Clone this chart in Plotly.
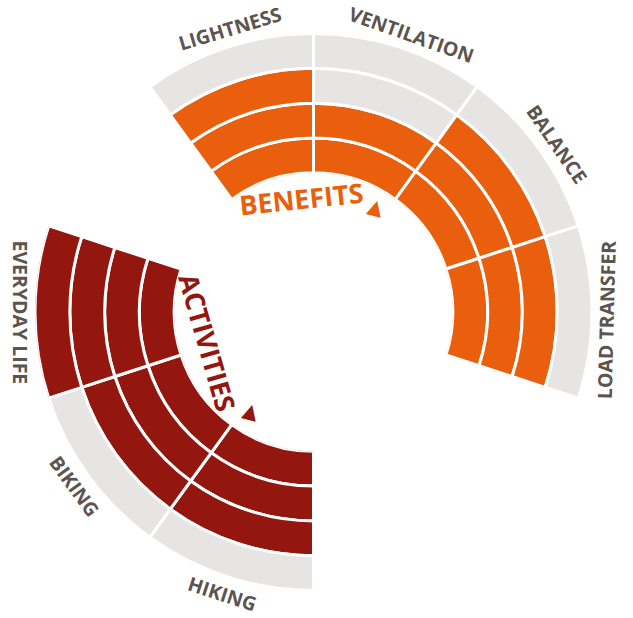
import math
import plotly.graph_objects as go

# ---- data ----
benefit_labels = ["LIGHTNESS", "VENTILATION", "BALANCE", "LOAD TRANSFER"]
benefit_values = [3, 2, 3, 3]
activity_labels = ["HIKING", "BIKING", "EVERYDAY LIFE"]
activity_values = [3, 3, 4]
max_level = 4
group_titles = ["BENEFITS", "ACTIVITIES"]

# ---- style / layout ----
W, H = 633, 618
ORANGE = "#e95f0d"
RED = "#93160f"
GREY = "#e6e5e3"
LABEL_COLOR = "#5c544e"
FONT = "Open Sans"
SECTOR = 36  # degrees per sector
BENEFIT_START = -36
ACTIVITY_START = 180

CX, CY, R_OUT = 313.5, 312.0, 278.5
HOLE = 0.5

dom_x = [(CX - R_OUT) / W, (CX + R_OUT) / W]
dom_y = [(H - CY - R_OUT) / H, (H - CY + R_OUT) / H]


def centers(start, n):
    return [start + SECTOR * (i + 0.5) for i in range(n)]


groups = [
    (benefit_labels, benefit_values, BENEFIT_START, ORANGE),
    (activity_labels, activity_values, ACTIVITY_START, RED),
]

fig = go.Figure()
for level in range(max_level):
    thetas, colors, names = [], [], []
    for labels, values, start, col in groups:
        thetas += centers(start, len(labels))
        colors += [col if v > level else GREY for v in values]
        names += labels
    fig.add_trace(go.Barpolar(
        theta=thetas,
        r=[1] * len(thetas),
        base=[level] * len(thetas),
        width=[SECTOR] * len(thetas),
        marker=dict(color=colors, line=dict(color="white", width=3)),
        customdata=names,
        hovertemplate="%{customdata}<extra></extra>",
        showlegend=False,
    ))


def to_paper(theta, r):
    t = math.radians(theta)
    xp = CX + r * math.sin(t)
    yp = CY - r * math.cos(t)
    return xp / W, 1 - yp / H


def is_bottom(theta):
    th = theta % 360
    return 90 < th <= 270


def tangent_angle(theta):
    th = theta % 360
    if is_bottom(th):
        return th - 180
    return th if th <= 180 else th - 360


annotations = []
R_LABEL = 296
for labels, values, start, col in groups:
    for lab, th in zip(labels, centers(start, len(labels))):
        th_l = th if is_bottom(th) else th + 1.5
        r_l = R_LABEL - 0.6 * max(0, len(lab) - 8)
        x, y = to_paper(th_l, r_l)
        annotations.append(dict(
            x=x, y=y, xref="paper", yref="paper", text=lab, showarrow=False,
            textangle=tangent_angle(th_l), xanchor="center", yanchor="middle",
            font=dict(family=FONT, size=19.5, color=LABEL_COLOR, weight="bold"),
        ))

# group titles inside the hole
title_specs = [
    (group_titles[0], ORANGE, -6, 114, 31, 122),
    (group_titles[1], RED, 254, 110, 212, 117),
]
for text, col, th, r, tri_th, tri_r in title_specs:
    x, y = to_paper(th, r)
    annotations.append(dict(
        x=x, y=y, xref="paper", yref="paper", text=text, showarrow=False,
        textangle=tangent_angle(th), xanchor="center", yanchor="middle",
        font=dict(family=FONT, size=27, color=col, weight="bold"),
    ))
    x, y = to_paper(tri_th, tri_r)
    annotations.append(dict(
        x=x, y=y, xref="paper", yref="paper", text="▲", showarrow=False,
        textangle=15, xanchor="center", yanchor="middle",
        font=dict(family="DejaVu Sans", size=20, color=col),
    ))

fig.update_layout(
    width=W, height=H, autosize=False,
    margin=dict(l=0, r=0, t=0, b=0),
    paper_bgcolor="white", plot_bgcolor="white",
    polar=dict(
        domain=dict(x=dom_x, y=dom_y),
        hole=HOLE,
        bgcolor="white",
        angularaxis=dict(rotation=90, direction="clockwise", visible=False,
                         showgrid=False, showline=False, showticklabels=False),
        radialaxis=dict(range=[0, max_level], visible=False, showgrid=False,
                        showline=False, showticklabels=False),
    ),
    annotations=annotations,
)

fig.write_html(
    "out.html",
    config={"displayModeBar": False},
    post_script="document.body.style.margin='0px';document.body.style.overflow='hidden';",
)
